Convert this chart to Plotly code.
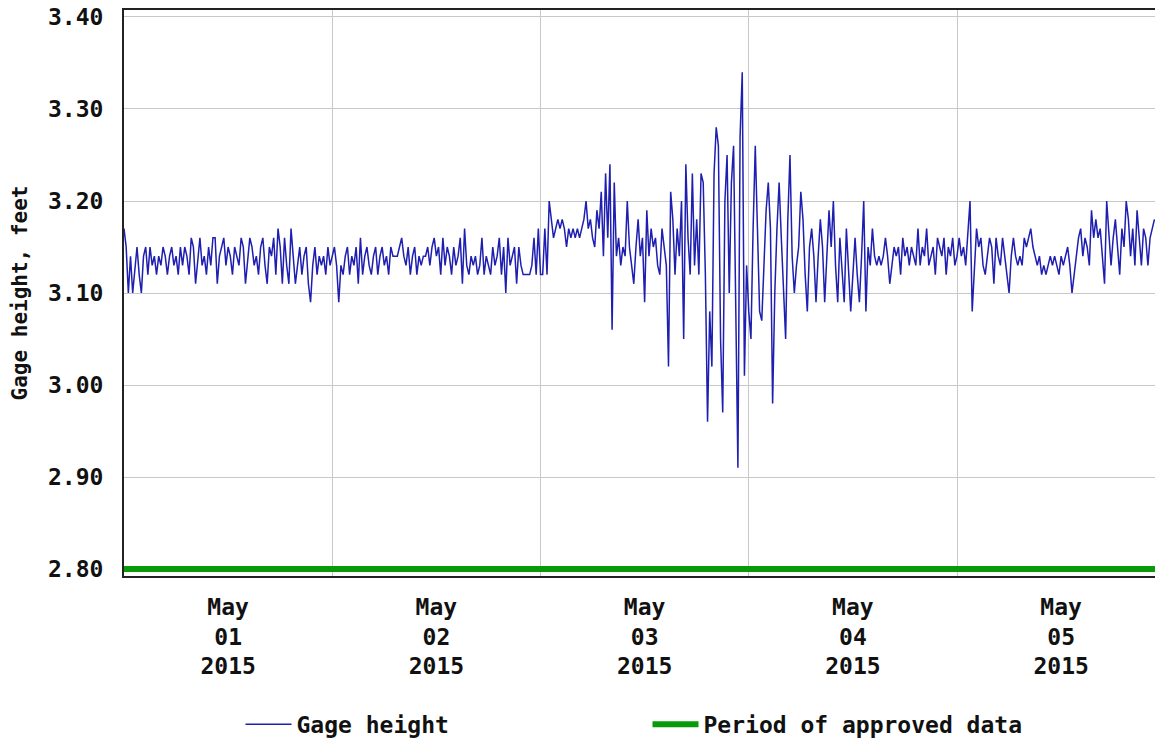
import pandas as pd
import plotly.graph_objects as go

# Gage height, feet (15-minute values)
may01 = [3.17,3.15,3.10,3.14,3.10,3.13,3.15,3.12, 3.10,3.14,3.15,3.12,3.15,3.13,3.14,3.12,
         3.14,3.13,3.15,3.14,3.12,3.14,3.15,3.13, 3.14,3.12,3.15,3.13,3.15,3.14,3.12,3.16,
         3.15,3.11,3.14,3.16,3.13,3.14,3.12,3.15, 3.13,3.16,3.16,3.11,3.14,3.15,3.16,3.13,
         3.15,3.14,3.12,3.15,3.14,3.13,3.16,3.15, 3.11,3.14,3.16,3.15,3.13,3.14,3.12,3.15,
         3.16,3.13,3.11,3.15,3.14,3.16,3.12,3.17, 3.15,3.11,3.16,3.13,3.11,3.17,3.14,3.11,
         3.13,3.15,3.12,3.14,3.15,3.11,3.09,3.13, 3.15,3.12,3.14,3.13,3.14,3.12,3.15,3.13]
may02 = [3.14,3.15,3.13,3.09,3.13,3.12,3.14,3.15, 3.12,3.14,3.13,3.15,3.11,3.16,3.12,3.14,
         3.15,3.13,3.12,3.14,3.15,3.12,3.14,3.15, 3.13,3.14,3.12,3.15,3.14,3.14,3.14,3.15,
         3.16,3.14,3.13,3.15,3.12,3.14,3.15,3.12, 3.14,3.13,3.14,3.14,3.15,3.13,3.15,3.16,
         3.14,3.15,3.12,3.16,3.13,3.15,3.14,3.12, 3.15,3.13,3.14,3.16,3.11,3.17,3.13,3.12,
         3.14,3.13,3.14,3.12,3.13,3.16,3.12,3.14, 3.13,3.12,3.15,3.13,3.14,3.16,3.12,3.15,
         3.10,3.16,3.13,3.14,3.15,3.11,3.15,3.13, 3.12,3.12,3.12,3.12,3.13,3.16,3.12,3.17]
may03 = [3.12,3.12,3.17,3.12,3.20,3.18,3.16,3.17, 3.18,3.17,3.18,3.17,3.15,3.17,3.16,3.17,
         3.16,3.17,3.16,3.17,3.18,3.20,3.17,3.18, 3.16,3.15,3.19,3.17,3.21,3.14,3.23,3.16,
         3.24,3.06,3.22,3.14,3.16,3.13,3.15,3.14, 3.20,3.15,3.13,3.11,3.15,3.18,3.14,3.16,
         3.09,3.19,3.14,3.17,3.15,3.16,3.13,3.12, 3.17,3.15,3.13,3.02,3.21,3.18,3.12,3.17,
         3.14,3.20,3.05,3.24,3.16,3.12,3.23,3.13, 3.18,3.12,3.23,3.22,3.12,2.96,3.08,3.02,
         3.23,3.28,3.26,3.05,2.97,3.20,3.25,3.10, 3.22,3.26,3.07,2.91,3.27,3.34,3.01,3.13]
may04 = [3.08,3.05,3.17,3.26,3.17,3.08,3.07,3.14, 3.19,3.22,3.17,2.98,3.10,3.17,3.22,3.16,
         3.10,3.05,3.18,3.25,3.14,3.10,3.13,3.15, 3.21,3.18,3.12,3.08,3.15,3.17,3.14,3.09,
         3.14,3.18,3.15,3.09,3.14,3.19,3.15,3.20, 3.13,3.09,3.16,3.13,3.09,3.17,3.13,3.08,
         3.12,3.16,3.12,3.09,3.14,3.20,3.08,3.15, 3.13,3.17,3.14,3.13,3.14,3.13,3.14,3.16,
         3.14,3.11,3.13,3.15,3.14,3.15,3.12,3.16, 3.14,3.15,3.13,3.15,3.14,3.13,3.17,3.13,
         3.15,3.14,3.17,3.13,3.14,3.15,3.12,3.16, 3.15,3.14,3.16,3.12,3.15,3.14,3.16,3.13]
may05 = [3.14,3.16,3.14,3.15,3.13,3.16,3.20,3.08, 3.12,3.17,3.15,3.16,3.13,3.12,3.14,3.16,
         3.15,3.11,3.16,3.14,3.13,3.16,3.14,3.12, 3.10,3.14,3.16,3.14,3.13,3.14,3.13,3.16,
         3.15,3.16,3.17,3.15,3.14,3.13,3.14,3.12, 3.13,3.12,3.13,3.14,3.13,3.14,3.13,3.12,
         3.14,3.13,3.14,3.15,3.13,3.10,3.12,3.14, 3.16,3.17,3.14,3.16,3.15,3.13,3.19,3.16,
         3.18,3.16,3.17,3.14,3.11,3.20,3.17,3.13, 3.16,3.18,3.15,3.12,3.17,3.15,3.20,3.18,
         3.14,3.17,3.13,3.19,3.16,3.13,3.17,3.16, 3.13,3.16,3.17,3.18]

gage = may01 + may02 + may03 + may04 + may05
times = pd.date_range("2015-05-01 00:00", periods=len(gage), freq="15min")

approved_x = ["2015-05-01 00:00", "2015-05-06 00:00"]
approved_y = [2.80, 2.80]

y_ticks = [2.80, 2.90, 3.00, 3.10, 3.20, 3.30, 3.40]
x_tick_vals = ["2015-05-01 12:00", "2015-05-02 12:00", "2015-05-03 12:00",
               "2015-05-04 12:00", "2015-05-05 12:00"]
x_tick_text = ["May<br>01<br>2015", "May<br>02<br>2015", "May<br>03<br>2015",
               "May<br>04<br>2015", "May<br>05<br>2015"]

FONT = "DejaVu Sans Mono"

fig = go.Figure()
fig.add_trace(go.Scatter(x=times, y=gage, mode="lines", name="Gage height",
                         line=dict(color="#1e1eb0", width=1.5)))
fig.add_trace(go.Scatter(x=approved_x, y=approved_y, mode="lines",
                         name="Period of approved data",
                         line=dict(color="#089a08", width=6)))

fig.update_layout(
    width=1155, height=744,
    margin=dict(l=124, r=0, t=10, b=168, autoexpand=False),
    paper_bgcolor="white", plot_bgcolor="white",
    font=dict(family=FONT, size=23, color="#111111", weight="bold"),
    showlegend=True,
    legend=dict(orientation="h", x=0.113, xanchor="left", y=-0.262, yanchor="middle",
                font=dict(family=FONT, size=23, color="#111111", weight="bold"),
                entrywidth=346, itemwidth=46, bgcolor="rgba(0,0,0,0)"),
)

fig.update_xaxes(
    type="date", automargin=False,
    range=["2015-05-01 00:00", "2015-05-05 22:49"],
    tickmode="array", tickvals=x_tick_vals, ticktext=x_tick_text,
    showgrid=False, ticks="", ticklabelstandoff=9,
    minor=dict(dtick=86400000, tick0="2015-05-01", showgrid=True,
               gridcolor="#c8c8c8", gridwidth=1, ticks=""),
    showline=True, linecolor="#222222", linewidth=2, mirror=True,
    zeroline=False,
)
fig.update_yaxes(
    automargin=False,
    range=[2.7924, 3.4076],
    tickmode="array", tickvals=y_ticks, tickformat=".2f",
    showgrid=True, gridcolor="#c8c8c8", gridwidth=1,
    ticks="", ticklabelstandoff=14,
    showline=True, linecolor="#222222", linewidth=2, mirror=False,
    zeroline=False,
    title=dict(text="Gage height, feet", standoff=15,
               font=dict(family=FONT, size=21, color="#111111", weight="bold")),
)

fig.write_html("out.html", config={"displayModeBar": False},
               post_script="document.body.style.margin='0';document.body.style.overflow='hidden';")
